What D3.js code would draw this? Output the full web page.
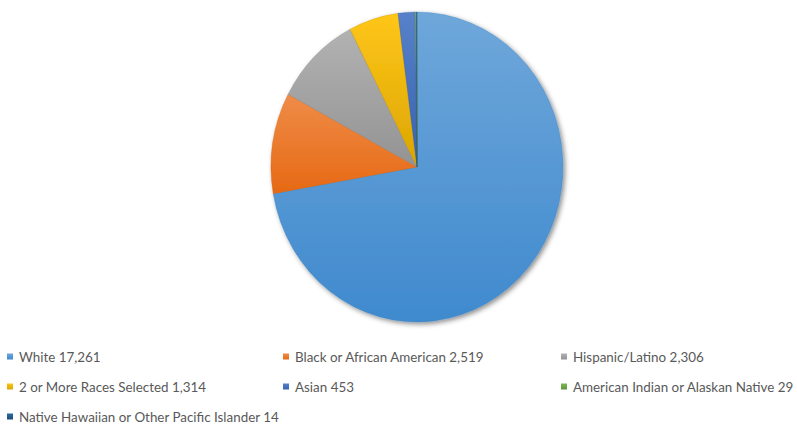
<!DOCTYPE html>
<html>
<head>
<meta charset="utf-8">
<script src="https://cdn.jsdelivr.net/npm/d3@7"></script>
<style>
  html, body { margin: 0; padding: 0; background: #fff; }
  svg { display: block; font-family: Lato, "Open Sans", sans-serif; }
</style>
</head>
<body>
<svg id="chart" width="797" height="425"></svg>
<script>
// data
const categories = [
  "White",
  "Black or African American",
  "Hispanic/Latino",
  "2 or More Races Selected",
  "Asian",
  "American Indian or Alaskan Native",
  "Native Hawaiian or Other Pacific Islander"
];
const counts = [17261, 2519, 2306, 1314, 453, 29, 14];
const colors = ["#5B9BD5", "#ED7D31", "#A5A5A5", "#FFC000", "#4472C4", "#70AD47", "#255E91"];

const svg = d3.select("#chart");

const cx = 417, cy = 167;
const r = 146;
const squash = 155 / 146; // the picture is a bit taller than wide

const defs = svg.append("defs");

// shadow below/right of the pie
const shadow = defs.append("filter")
  .attr("id", "shadow")
  .attr("x", "-10%").attr("y", "-10%")
  .attr("width", "130%").attr("height", "130%");
shadow.append("feDropShadow")
  .attr("dx", 2).attr("dy", 2)
  .attr("stdDeviation", 2.5)
  .attr("flood-color", "#000")
  .attr("flood-opacity", 0.45);

// shift lightness in HSL, keeps the hue like the Office gradient does
function shade(c, dl) {
  const h = d3.hsl(c);
  h.l = Math.max(0, Math.min(1, h.l + dl));
  return h.formatHex();
}

// vertical gradient per slice box, lighter on top
colors.forEach((c, i) => {
  const g = defs.append("linearGradient")
    .attr("id", "grad" + i)
    .attr("x1", 0).attr("x2", 0).attr("y1", 0).attr("y2", 1);
  g.append("stop").attr("offset", "0%").attr("stop-color", shade(c, 0.05));
  g.append("stop").attr("offset", "100%").attr("stop-color", shade(c, -0.07));
});

const data = categories.map((name, i) => ({ name, value: counts[i], i }));

const pie = d3.pie()
  .value(d => d.value)
  .sort(null);

const arc = d3.arc()
  .innerRadius(0)
  .outerRadius(r);

const pieG = svg.append("g")
  .attr("transform", `translate(${cx},${cy}) scale(1,${squash})`)
  .attr("filter", "url(#shadow)");

pieG.selectAll("path")
  .data(pie(data))
  .join("path")
  .attr("d", arc)
  .attr("fill", d => `url(#grad${d.data.i})`)
  .attr("stroke", d => shade(colors[d.data.i], -0.12))
  .attr("stroke-width", 0.3);

// legend: three columns
const colX = [7, 283, 561];
const rowY = [357, 387, 417];
const fmt = d3.format(",");

const items = svg.append("g")
  .selectAll("g")
  .data(data)
  .join("g")
  .attr("transform", d => `translate(${colX[d.i % 3]},${rowY[Math.floor(d.i / 3)]})`);

items.append("rect")
  .attr("x", 0).attr("y", -3.5)
  .attr("width", 6).attr("height", 6)
  .attr("fill", d => `url(#grad${d.i})`);

items.append("text")
  .attr("x", 12)
  .attr("y", 0)
  .attr("dy", "0.35em")
  .attr("fill", "#595959")
  .style("font-size", "13.4px")
  .text(d => `${d.name} ${fmt(d.value)}`);
</script>
</body>
</html>
